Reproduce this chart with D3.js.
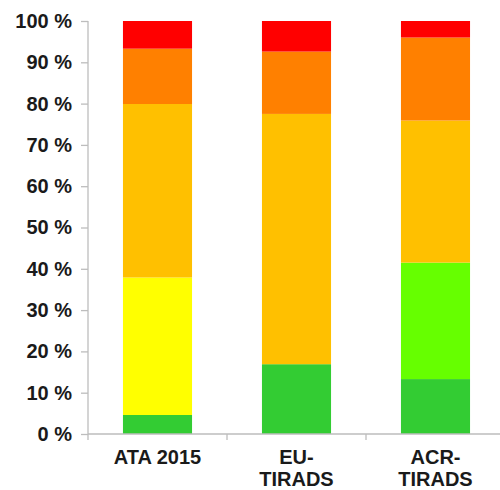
<!DOCTYPE html>
<html>
<head>
<meta charset="utf-8">
<script src="https://cdn.jsdelivr.net/npm/d3@7"></script>
<style>
  html, body { margin: 0; padding: 0; background: #fff; }
  svg { display: block; }
  text { font-family: "Liberation Sans", Arial, sans-serif; font-weight: bold; fill: #1a1a1a; }
</style>
</head>
<body>
<svg id="chart" width="500" height="490"></svg>
<script>
// Classification systems on the x axis
const categories = ["ATA 2015", "EU-TIRADS", "ACR-TIRADS"];
const categoryLines = [["ATA 2015"], ["EU-", "TIRADS"], ["ACR-", "TIRADS"]];

// Risk groups stacked from bottom to top
const riskGroups = ["benign", "veryLow", "low", "intermediate", "high", "highest"];
const riskColors = ["#33cc33", "#66ff00", "#ffff00", "#ffc000", "#ff8000", "#ff0000"];

// Share of nodules (%) per risk group, one value per category
const benign       = [4.6, 16.9, 13.3];
const veryLow      = [0.0, 0.0, 28.2];
const low          = [33.3, 0.0, 0.0];
const intermediate = [42.0, 60.6, 34.4];
const high         = [13.4, 15.1, 20.1];
const highest      = [6.7, 7.4, 4.0];

const yTicks = [0, 10, 20, 30, 40, 50, 60, 70, 80, 90, 100];

const seriesValues = { benign, veryLow, low, intermediate, high, highest };
const rows = categories.map((c, i) => {
  const r = { category: c };
  riskGroups.forEach(g => { r[g] = seriesValues[g][i]; });
  return r;
});

const svg = d3.select("#chart");
const plotLeft = 88, plotRight = 505, plotTop = 21, plotBottom = 434;

const x = d3.scaleBand().domain(categories).range([plotLeft, plotRight]).paddingInner(0).paddingOuter(0);
const y = d3.scaleLinear().domain([0, 100]).range([plotBottom, plotTop]);
const color = d3.scaleOrdinal().domain(riskGroups).range(riskColors);

const stacked = d3.stack().keys(riskGroups)(rows);
const barWidth = x.bandwidth() * 0.497;

// Stacked bars
svg.append("g")
  .selectAll("g")
  .data(stacked)
  .join("g")
  .attr("fill", d => color(d.key))
  .selectAll("rect")
  .data(d => d)
  .join("rect")
  .attr("x", d => x(d.data.category) + (x.bandwidth() - barWidth) / 2)
  .attr("y", d => y(d[1]))
  .attr("width", barWidth)
  .attr("height", d => y(d[0]) - y(d[1]));

// Y axis
const yAxis = svg.append("g")
  .attr("transform", `translate(${plotLeft},0)`)
  .call(d3.axisLeft(y).tickValues(yTicks).tickSize(7).tickPadding(9).tickFormat(d => d + " %"));
yAxis.selectAll("path, line").attr("stroke", "#bdbdbd").attr("stroke-width", 1.3);
yAxis.select(".domain").attr("d", `M0,${plotTop}V${plotBottom + 6}`);
yAxis.selectAll("text").attr("font-size", 20).attr("fill", "#1a1a1a")
  .attr("font-family", "'Liberation Sans', Arial, sans-serif").attr("font-weight", "bold");

// X axis: baseline with ticks at the band boundaries
const xAxis = svg.append("g").attr("transform", `translate(0,${plotBottom})`);
xAxis.append("line").attr("x1", plotLeft).attr("x2", 500).attr("y1", 0).attr("y2", 0)
  .attr("stroke", "#bdbdbd").attr("stroke-width", 1.3);
xAxis.selectAll("line.sep")
  .data(categories.slice(1))
  .join("line")
  .attr("class", "sep")
  .attr("x1", d => x(d)).attr("x2", d => x(d))
  .attr("y1", 0).attr("y2", 6)
  .attr("stroke", "#bdbdbd").attr("stroke-width", 1.3);

// Category labels (may span two lines)
const labels = xAxis.selectAll("text.cat")
  .data(categories)
  .join("text")
  .attr("class", "cat")
  .attr("text-anchor", "middle")
  .attr("font-size", 20)
  .attr("x", d => x(d) + x.bandwidth() / 2)
  .attr("y", 30);
labels.selectAll("tspan")
  .data((d, i) => categoryLines[i])
  .join("tspan")
  .attr("x", function() { return this.parentNode.getAttribute("x"); })
  .attr("dy", (d, i) => i === 0 ? 0 : 21.5)
  .text(d => d);
</script>
</body>
</html>
